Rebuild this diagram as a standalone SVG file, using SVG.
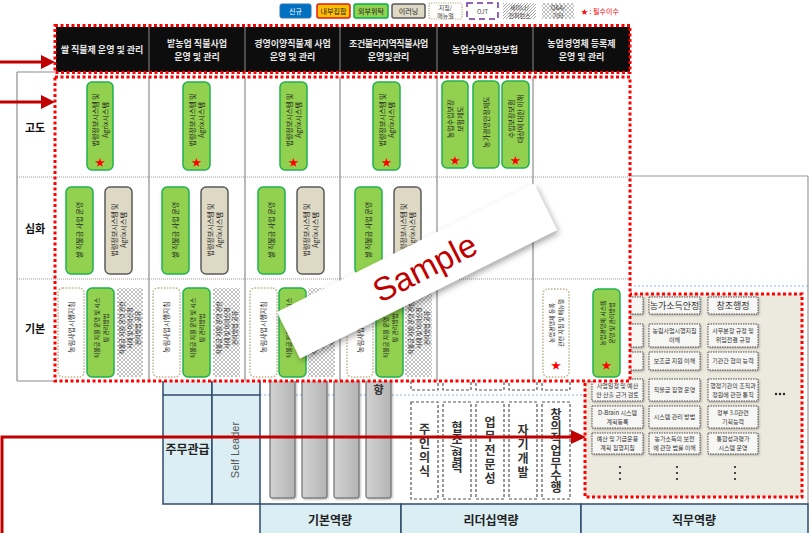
<svg xmlns="http://www.w3.org/2000/svg" width="812" height="533" viewBox="0 0 812 533">
<defs>
<style>
text{font-family:"Noto Sans CJK KR","Liberation Sans",sans-serif;}
.ht{font-size:9px;font-weight:bold;fill:#e6e6e6;text-anchor:middle}
.rl{font-size:11px;font-weight:bold;fill:#111;text-anchor:middle}
.g{fill:#92d050;stroke:#1fb150;stroke-width:1.5}
.b{fill:#ddd9c4;stroke:#5a5a5a;stroke-width:1.5}
.d{fill:#fff;stroke:#bfb38a;stroke-width:1.5;stroke-dasharray:1.5 1.5}
.h{fill:url(#dia)}
.ct{font-size:7px;fill:#1a1a1a;text-anchor:middle}
.cs{font-size:6px;fill:#1a1a1a;text-anchor:middle}
.star{font-size:10px;fill:#f00;text-anchor:middle}
.vl{stroke:#8c8c8c;stroke-width:1.2}
.hl{stroke:#9a9a9a;stroke-width:1.2;stroke-dasharray:1 1}
.rd{fill:none;stroke:#f00;stroke-width:3;stroke-dasharray:3 2.5}
.lb{fill:#daeef3;stroke:#2f4b6e;stroke-width:1.5}
.bar{fill:url(#gbar);stroke:#5e5e5e;stroke-width:1}
.dash{fill:#fff;stroke:#555;stroke-width:1.2;stroke-dasharray:3 2}
.vt{font-size:12px;font-weight:bold;fill:#333;writing-mode:vertical-rl}
.lt{font-size:12px;font-weight:bold;fill:#222;text-anchor:middle}
.btn{fill:#f6f6f4;stroke:#505050;stroke-width:1;stroke-dasharray:1.5 1}
.bt{font-size:6px;fill:#333;text-anchor:middle}
.bt2{font-size:9px;fill:#333;text-anchor:middle}
.arr{stroke:#c00000;stroke-width:3;fill:none}
.ah{fill:#c00000}
.lg{font-size:7px;fill:#222;text-anchor:middle}
.lg2{font-size:6px;fill:#444;text-anchor:middle}
</style>
<pattern id="dia" width="4" height="4" patternUnits="userSpaceOnUse"><rect width="4" height="4" fill="#fff"/><path d="M0 0L4 4M4 0L0 4" stroke="#b0b0b0" stroke-width="0.8"/></pattern>
<pattern id="diag" width="3" height="3" patternUnits="userSpaceOnUse"><rect width="3" height="3" fill="#fff"/><path d="M0 3L3 0" stroke="#a0a0a0" stroke-width="0.9"/></pattern>
<linearGradient id="gbar" x1="0" y1="0" x2="1" y2="0"><stop offset="0" stop-color="#d2d2d2"/><stop offset="1" stop-color="#b4b4b4"/></linearGradient>
<filter id="sh" x="-10%" y="-10%" width="130%" height="140%"><feDropShadow dx="2" dy="3" stdDeviation="3" flood-color="#000" flood-opacity="0.35"/></filter>
<filter id="sh2" x="-20%" y="-20%" width="150%" height="150%"><feDropShadow dx="1" dy="1" stdDeviation="0.8" flood-color="#000" flood-opacity="0.3"/></filter>
</defs>
<rect width="812" height="533" fill="#fff"/>

<!-- legend -->
<g id="legend">
<rect x="280" y="4" width="31" height="14" rx="2" fill="#0070c0" stroke="#2e75b6"/><text class="lg" x="295.5" y="13.5" style="fill:#fff">신규</text>
<rect x="317" y="4" width="33" height="14" rx="2" fill="#ffc000" stroke="#e31a1c" stroke-width="1.5"/><text class="lg" x="333.5" y="13.5">내부집합</text>
<rect x="354" y="4" width="34" height="14" rx="2" fill="#92d050" stroke="#00b050" stroke-width="1.5"/><text class="lg" x="371" y="13.5">외부위탁</text>
<rect x="392" y="4" width="33" height="14" rx="2" fill="#ddd9c4" stroke="#595959" stroke-width="1.5"/><text class="lg" x="408.5" y="13.5">이러닝</text>
<rect x="429" y="3" width="33" height="16" rx="2" fill="#fff" stroke="#b5a87a" stroke-width="1.2" stroke-dasharray="1.2 1.2"/><text class="lg2" x="445.5" y="10">지침/</text><text class="lg2" x="445.5" y="17.5">매뉴얼</text>
<rect x="467" y="3" width="31" height="16" fill="none" stroke="#7030a0" stroke-width="1.5" stroke-dasharray="6 4"/><text class="lg2" x="482.5" y="13.5">OJT</text>
<rect x="503" y="3" width="33" height="16" fill="url(#diag)"/><text class="lg2" x="519.5" y="10">세미나/</text><text class="lg2" x="519.5" y="17.5">컨퍼런스</text>
<rect x="542" y="3" width="32" height="16" fill="url(#dia)"/><text class="lg2" x="558" y="10">Q&amp;A/</text><text class="lg2" x="558" y="17.5">기타</text>
<text x="581" y="14" style="font-size:7px;fill:#f00">★ : 필수이수</text>
</g>

<!-- background page -->
<g id="background">
<line x1="533" y1="176" x2="808" y2="176" stroke="#9a9a9a" stroke-width="1.2"/>
<line x1="808" y1="176" x2="808" y2="504" stroke="#9a9a9a" stroke-width="1.2"/>
<line x1="630" y1="286" x2="808" y2="286" stroke="#8eb4e3" stroke-width="1" stroke-dasharray="2 2"/>
<line x1="260" y1="395" x2="585" y2="395" stroke="#8eb4e3" stroke-width="1" stroke-dasharray="2 2"/>
</g>

<g id="grade-cells">
<rect class="lb" x="163" y="360" width="49" height="144"/>
<rect class="lb" x="212" y="360" width="48" height="144"/>
<line x1="163" y1="395" x2="260" y2="395" stroke="#2f4b6e" stroke-width="1.5"/>
<text class="lt" x="187.5" y="454">주무관급</text>
<text transform="translate(239,450) rotate(-90)" text-anchor="middle" style="font-size:11px;fill:#555;font-family:'Liberation Sans',sans-serif">Self Leader</text>
</g>

<g id="bottom-row">
<rect class="lb" x="260" y="504" width="141" height="40"/>
<rect class="lb" x="401" y="504" width="180" height="40"/>
<rect class="lb" x="581" y="504" width="227" height="40"/>
<text class="lt" x="330" y="525">기본역량</text>
<text class="lt" x="491" y="525">리더십역량</text>
<text class="lt" x="694" y="525">직무역량</text>
</g>

<g id="basic-bars">
<g filter="url(#sh2)">
<rect class="bar" x="270" y="360" width="25" height="138" rx="2"/>
<rect class="bar" x="302" y="360" width="25" height="138" rx="2"/>
<rect class="bar" x="334" y="360" width="25" height="138" rx="2"/>
<rect class="bar" x="366" y="360" width="25" height="138" rx="2"/>
</g>
<text x="378.5" y="394" text-anchor="middle" style="font-size:11px;font-weight:bold;fill:#333">향</text>
</g>

<g id="leadership">
<rect class="dash" x="411" y="360" width="27" height="30"/>
<rect class="dash" x="443" y="360" width="28" height="30"/>
<rect class="dash" x="476" y="360" width="28" height="30"/>
<rect class="dash" x="509" y="360" width="28" height="30"/>
<rect class="dash" x="542" y="360" width="28" height="30"/>
<rect class="dash" x="411" y="402" width="27" height="97"/>
<rect class="dash" x="443" y="402" width="28" height="97"/>
<rect class="dash" x="476" y="402" width="28" height="97"/>
<rect class="dash" x="509" y="402" width="28" height="97"/>
<rect class="dash" x="542" y="402" width="28" height="97"/>
<text class="vt" x="424.5" y="423" style="letter-spacing:2.3px">주인의식</text>
<text class="vt" x="457" y="421" style="letter-spacing:0px">협조/협력</text>
<text class="vt" x="490" y="416" style="letter-spacing:2.2px">업무전문성</text>
<text class="vt" x="523" y="424" style="letter-spacing:2px">자기개발</text>
<text class="vt" x="556" y="408" style="letter-spacing:0.3px">창의적업무수행</text>
</g>

<g id="job-panel">
<rect x="585" y="294" width="217" height="203" fill="#ece9de"/>
<rect class="rd" x="585" y="294" width="217" height="203"/>
<g filter="url(#sh2)">
<rect class="btn" x="592" y="297" width="51" height="17"/><rect class="btn" x="649" y="297" width="51" height="17"/><rect class="btn" x="708" y="297" width="50" height="17"/>
<rect class="btn" x="592" y="324" width="51" height="23"/><rect class="btn" x="649" y="324" width="51" height="23"/><rect class="btn" x="708" y="324" width="50" height="23"/>
<rect class="btn" x="592" y="352" width="51" height="18"/><rect class="btn" x="649" y="352" width="51" height="18"/><rect class="btn" x="708" y="352" width="50" height="18"/>
<rect class="btn" x="592" y="379" width="51" height="22"/><rect class="btn" x="649" y="379" width="51" height="22"/><rect class="btn" x="708" y="379" width="50" height="22"/>
<rect class="btn" x="592" y="406" width="51" height="22"/><rect class="btn" x="649" y="406" width="51" height="22"/><rect class="btn" x="708" y="406" width="50" height="22"/>
<rect class="btn" x="592" y="433" width="51" height="21"/><rect class="btn" x="649" y="433" width="51" height="21"/><rect class="btn" x="708" y="433" width="50" height="21"/>
</g>
<text class="bt2" x="674.5" y="309">농가소득안정</text>
<text class="bt2" x="733" y="309">창조행정</text>
<text class="bt"><tspan x="674.5" y="333">농림사업시행지침</tspan><tspan x="674.5" y="342">이해</tspan></text>
<text class="bt"><tspan x="733" y="333">사무분장 규정 및</tspan><tspan x="733" y="342">위임전결 규정</tspan></text>
<text class="bt" x="674.5" y="363">보조금 지원 이해</text>
<text class="bt" x="733" y="363">기관간 협의 능력</text>
<text class="bt"><tspan x="617.5" y="387.5">사업일정 및 예산</tspan><tspan x="617.5" y="396.5">안 산출 근거 검토</tspan></text>
<text class="bt" x="674.5" y="392">직불금 집행 운영</text>
<text class="bt"><tspan x="733" y="387.5">행정기관의 조직과</tspan><tspan x="733" y="396.5">정원에 관한 통칙</tspan></text>
<text class="bt"><tspan x="617.5" y="414.5">D-Brain 시스템</tspan><tspan x="617.5" y="423.5">계획등록</tspan></text>
<text class="bt" x="674.5" y="419">시스템 관리 방법</text>
<text class="bt"><tspan x="733" y="414.5">정부 3.0관련</tspan><tspan x="733" y="423.5">기획능력</tspan></text>
<text class="bt"><tspan x="617.5" y="441">예산 및 기금운용</tspan><tspan x="617.5" y="450">계획 집행지침</tspan></text>
<text class="bt"><tspan x="674.5" y="441">농가소득의 보전</tspan><tspan x="674.5" y="450">에 관한 법률 이해</tspan></text>
<text class="bt"><tspan x="733" y="441">통합성과평가</tspan><tspan x="733" y="450">시스템 운영</tspan></text>
<g fill="#222"><circle cx="776" cy="394" r="1.2"/><circle cx="780" cy="394" r="1.2"/><circle cx="784" cy="394" r="1.2"/>
<circle cx="620" cy="467" r="1.1"/><circle cx="620" cy="473" r="1.1"/><circle cx="620" cy="479" r="1.1"/>
<circle cx="677" cy="467" r="1.1"/><circle cx="677" cy="473" r="1.1"/><circle cx="677" cy="479" r="1.1"/>
<circle cx="735" cy="467" r="1.1"/><circle cx="735" cy="473" r="1.1"/><circle cx="735" cy="479" r="1.1"/></g>
</g>

<!-- main table -->
<g id="main-table">
<rect x="17" y="25" width="613" height="356" fill="#fff"/>
<rect x="56" y="27" width="574" height="45" fill="#0d0d0d"/>
<g stroke="#777" stroke-width="1.2"><line x1="149" y1="27" x2="149" y2="72"/><line x1="245" y1="27" x2="245" y2="72"/><line x1="340" y1="27" x2="340" y2="72"/><line x1="437" y1="27" x2="437" y2="72"/><line x1="533" y1="27" x2="533" y2="72"/></g>
<text class="ht" x="102" y="53">쌀 직불제 운영 및 관리</text>
<text class="ht"><tspan x="197" y="46.5">밭농업 직불사업</tspan><tspan x="197" y="60">운영 및 관리</tspan></text>
<text class="ht"><tspan x="292.5" y="46.5">경영이양직불제 사업</tspan><tspan x="292.5" y="60">운영 및 관리</tspan></text>
<text class="ht"><tspan x="388.5" y="46.5" style="letter-spacing:-0.4px">조건불리지역직불사업</tspan><tspan x="388.5" y="60">운영및관리</tspan></text>
<text class="ht" x="485" y="53">농업수입보장보험</text>
<text class="ht"><tspan x="581.5" y="46.5">농업경영체 등록제</tspan><tspan x="581.5" y="60">운영 및 관리</tspan></text>
<rect class="rd" x="55" y="25.5" width="575" height="47"/>

<g id="grid">
<line class="vl" x1="17" y1="72" x2="17" y2="381"/>
<line class="vl" x1="17" y1="72" x2="55" y2="72"/>
<line class="vl" x1="17" y1="381" x2="55" y2="381"/>
<line class="hl" x1="17" y1="177" x2="630" y2="177"/>
<line class="hl" x1="17" y1="279" x2="630" y2="279"/>
<line class="vl" x1="149" y1="77" x2="149" y2="381"/>
<line class="vl" x1="245" y1="77" x2="245" y2="381"/>
<line class="vl" x1="340" y1="77" x2="340" y2="381"/>
<line class="vl" x1="437" y1="77" x2="437" y2="381"/>
<line class="vl" x1="533" y1="77" x2="533" y2="381"/>
</g>
<text class="rl" x="35" y="132">고도</text>
<text class="rl" x="35" y="233">심화</text>
<text class="rl" x="35" y="333">기본</text>

<!-- 고도 -->
<g id="c1-go"><rect class="g" x="87" y="82" width="26" height="88" rx="5"/><text class="ct" transform="translate(100,120) rotate(-90)"><tspan x="0" y="-2">법령정보시스템 및</tspan><tspan x="0" y="7.5">Agrix시스템</tspan></text><text class="star" x="100" y="166">★</text></g>
<g id="c2-go"><rect class="g" x="183" y="82" width="27" height="88" rx="5"/><text class="ct" transform="translate(196.5,120) rotate(-90)"><tspan x="0" y="-2">법령정보시스템 및</tspan><tspan x="0" y="7.5">Agrix시스템</tspan></text><text class="star" x="196.5" y="166">★</text></g>
<g id="c3-go"><rect class="g" x="280" y="82" width="27" height="88" rx="5"/><text class="ct" transform="translate(293.5,120) rotate(-90)"><tspan x="0" y="-2">법령정보시스템 및</tspan><tspan x="0" y="7.5">Agrix시스템</tspan></text><text class="star" x="293.5" y="166">★</text></g>
<g id="c4-go"><rect class="g" x="373" y="82" width="27" height="88" rx="5"/><text class="ct" transform="translate(386.5,120) rotate(-90)"><tspan x="0" y="-2">법령정보시스템 및</tspan><tspan x="0" y="7.5">Agrix시스템</tspan></text><text class="star" x="386.5" y="166">★</text></g>
<g id="c5-go1"><rect class="g" x="442" y="81" width="26" height="87" rx="5"/><text class="ct" transform="translate(455,119) rotate(-90)"><tspan x="0" y="-2">농업수입보장</tspan><tspan x="0" y="7.5">보험제도</tspan></text><text class="star" x="455" y="164">★</text></g>
<g id="c5-go2"><rect class="g" x="473" y="81" width="26" height="87" rx="5"/><text class="ct" transform="translate(486,122) rotate(-90)" y="2.5">농가경영안정제도</text></g>
<g id="c5-go3"><rect class="g" x="502" y="81" width="27" height="87" rx="5"/><text class="ct" transform="translate(515.5,119) rotate(-90)"><tspan x="0" y="-2">수입보장보험</tspan><tspan x="0" y="7.5">대상에 대한 이해</tspan></text><text class="star" x="515.5" y="164">★</text></g>

<!-- 심화 -->
<g id="c1-sim-a"><rect class="g" x="66" y="187" width="27" height="87" rx="5"/><text class="ct" transform="translate(79.5,230) rotate(-90)" y="2.5">쌀 직불금 사업 운영</text></g>
<g id="c1-sim-b"><rect class="b" x="105" y="187" width="27" height="87" rx="5"/><text class="ct" transform="translate(118.5,230) rotate(-90)"><tspan x="0" y="-2">법령정보시스템 및</tspan><tspan x="0" y="7.5">Agrix시스템</tspan></text></g>
<g id="c2-sim-a"><rect class="g" x="162" y="187" width="27" height="87" rx="5"/><text class="ct" transform="translate(175.5,230) rotate(-90)" y="2.5">쌀 직불금 사업 운영</text></g>
<g id="c2-sim-b"><rect class="b" x="201" y="187" width="27" height="87" rx="5"/><text class="ct" transform="translate(214.5,230) rotate(-90)"><tspan x="0" y="-2">법령정보시스템 및</tspan><tspan x="0" y="7.5">Agrix시스템</tspan></text></g>
<g id="c3-sim-a"><rect class="g" x="258" y="187" width="27" height="87" rx="5"/><text class="ct" transform="translate(271.5,230) rotate(-90)" y="2.5">쌀 직불금 사업 운영</text></g>
<g id="c3-sim-b"><rect class="b" x="297" y="187" width="27" height="87" rx="5"/><text class="ct" transform="translate(310.5,230) rotate(-90)"><tspan x="0" y="-2">법령정보시스템 및</tspan><tspan x="0" y="7.5">Agrix시스템</tspan></text></g>
<g id="c4-sim-a"><rect class="g" x="355" y="187" width="27" height="87" rx="5"/><text class="ct" transform="translate(368.5,230) rotate(-90)" y="2.5">쌀 직불금 사업 운영</text></g>
<g id="c4-sim-b"><rect class="b" x="394" y="187" width="27" height="87" rx="5"/><text class="ct" transform="translate(407.5,230) rotate(-90)"><tspan x="0" y="-2">법령정보시스템 및</tspan><tspan x="0" y="7.5">Agrix시스템</tspan></text></g>

<!-- 기본 -->
<g id="c1-gi">
<rect class="d" x="58" y="288" width="26" height="89" rx="5"/><text class="ct" transform="translate(71,327) rotate(-90)" y="2.5">농림사업시행지침</text>
<rect class="g" x="87" y="288" width="27" height="89" rx="5"/><text class="cs" transform="translate(100.5,328) rotate(-90)"><tspan x="0" y="-2">직불금 지원 운영 및 시스</tspan><tspan x="0" y="7">템 관리방법</tspan></text>
<rect class="h" x="117" y="288" width="26" height="89"/><text class="cs" transform="translate(130,328) rotate(-90)"><tspan x="0" y="-6">직불금 지원 운영 관련</tspan><tspan x="0" y="2">사례 및 이의신청</tspan><tspan x="0" y="10">관리방법 공유</tspan></text>
</g>
<g id="c2-gi">
<rect class="d" x="153" y="288" width="27" height="89" rx="5"/><text class="ct" transform="translate(166.5,327) rotate(-90)" y="2.5">농림사업시행지침</text>
<rect class="g" x="183" y="288" width="27" height="89" rx="5"/><text class="cs" transform="translate(196.5,328) rotate(-90)"><tspan x="0" y="-2">직불금 지원 운영 및 시스</tspan><tspan x="0" y="7">템 관리방법</tspan></text>
<rect class="h" x="213" y="288" width="27" height="89"/><text class="cs" transform="translate(226.5,328) rotate(-90)"><tspan x="0" y="-6">직불금 지원 운영 관련</tspan><tspan x="0" y="2">사례 및 이의신청</tspan><tspan x="0" y="10">관리방법 공유</tspan></text>
</g>
<g id="c3-gi">
<rect class="d" x="250" y="288" width="27" height="89" rx="5"/><text class="ct" transform="translate(263.5,327) rotate(-90)" y="2.5">농림사업시행지침</text>
<rect class="g" x="279" y="288" width="27" height="89" rx="5"/><text class="cs" transform="translate(292.5,328) rotate(-90)"><tspan x="0" y="-2">직불금 지원 운영 및 시스</tspan><tspan x="0" y="7">템 관리방법</tspan></text>
<rect class="h" x="308" y="288" width="27" height="89"/><text class="cs" transform="translate(321.5,328) rotate(-90)"><tspan x="0" y="-6">직불금 지원 운영 관련</tspan><tspan x="0" y="2">사례 및 이의신청</tspan><tspan x="0" y="10">관리방법 공유</tspan></text>
</g>
<g id="c4-gi">
<rect class="d" x="347" y="288" width="26" height="89" rx="5"/><text class="ct" transform="translate(360,327) rotate(-90)" y="2.5">농림사업시행지침</text>
<rect class="g" x="376" y="288" width="27" height="89" rx="5"/><text class="cs" transform="translate(389.5,328) rotate(-90)"><tspan x="0" y="-2">직불금 지원 운영 및 시스</tspan><tspan x="0" y="7">템 관리방법</tspan></text>
<rect class="h" x="405" y="288" width="27" height="89"/><text class="cs" transform="translate(418.5,328) rotate(-90)"><tspan x="0" y="-6">직불금 지원 운영 관련</tspan><tspan x="0" y="2">사례 및 이의신청</tspan><tspan x="0" y="10">관리방법 공유</tspan></text>
</g>
<g id="c6-gi">
<rect class="d" x="543" y="289" width="26" height="88" rx="5"/><text class="cs" transform="translate(556,323) rotate(-90)"><tspan x="0" y="-2">농업경영체 등록</tspan><tspan x="0" y="7">관련 지침 및 매뉴얼</tspan></text><text class="star" x="556" y="369">★</text>
<rect class="g" x="593" y="289" width="27" height="88" rx="5"/><text class="cs" transform="translate(606.5,323) rotate(-90)"><tspan x="0" y="-2">농업경영체 시스템</tspan><tspan x="0" y="7">운영 및 관리방법</tspan></text><text class="star" x="606.5" y="369">★</text>
</g>
<rect class="rd" x="55" y="77" width="575" height="304"/>
</g>

<!-- sample sheet -->
<g id="sample">
<polygon points="277,312 534,183.5 557,230 300,358.5" fill="#fff" filter="url(#sh)"/>
<text transform="translate(425,268) rotate(-27)" text-anchor="middle" y="11" style="font-family:'Liberation Sans',sans-serif;font-size:33px;fill:#c00000">Sample</text>
</g>

<!-- connectors -->
<g id="connectors">
<line class="arr" x1="0" y1="62" x2="43" y2="62"/><polygon class="ah" points="41,55 55,62 41,69"/>
<line class="arr" x1="0" y1="102" x2="43" y2="102"/><polygon class="ah" points="41,95 55,102 41,109"/>
<path class="arr" d="M2,533 V437 H573"/><polygon class="ah" points="571,430 586,437 571,444"/>
</g>
</svg>
